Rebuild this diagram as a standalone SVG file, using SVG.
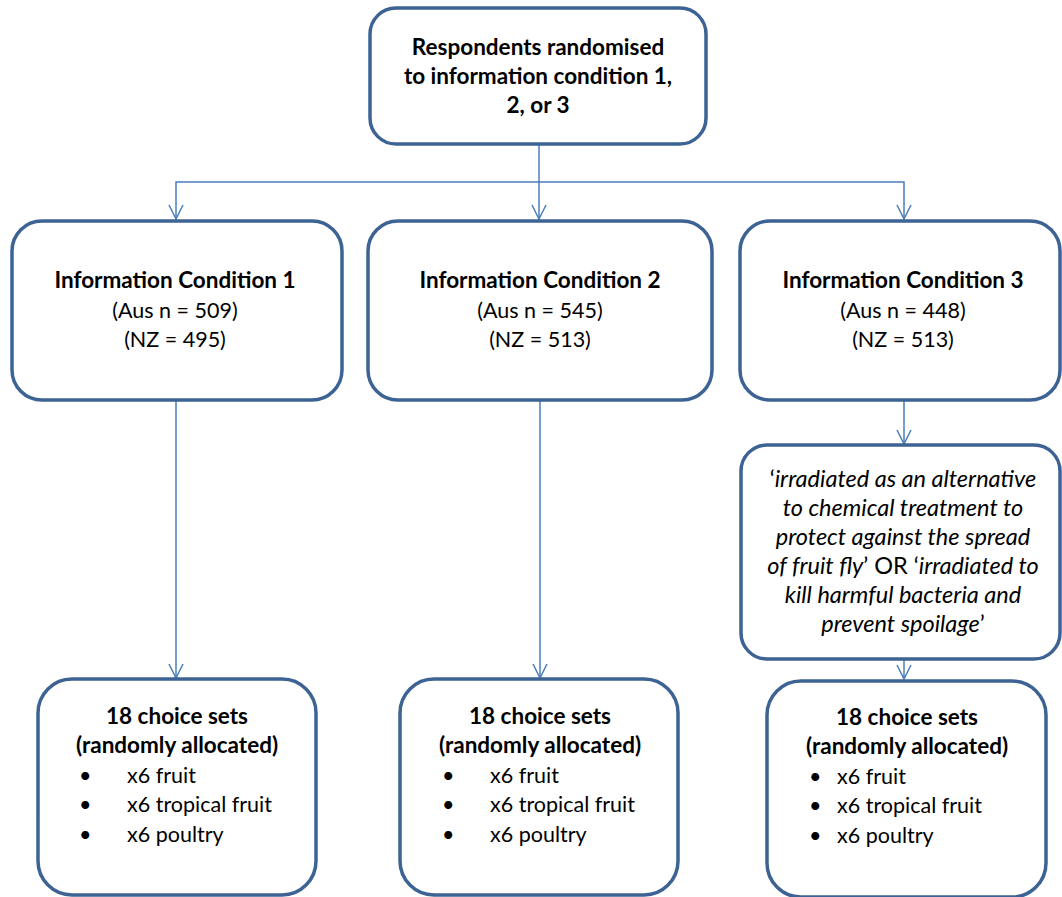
<svg xmlns="http://www.w3.org/2000/svg" width="1062" height="897" viewBox="0 0 1062 897">
<defs>
<marker id="arrd" viewBox="0 0 16 16" refX="8" refY="15" markerWidth="16" markerHeight="16" markerUnits="userSpaceOnUse">
<path d="M1,1 L8,15 L15,1" fill="none" stroke="#4a7ebb" stroke-width="1.5"/>
</marker>
</defs>
<style>
.box{fill:#fff;stroke:#3d6394;stroke-width:3.5}
.c{fill:none;stroke:#4a7ebb;stroke-width:1.5}
text{font-family:Lato,"Liberation Sans",sans-serif;font-size:21.5px;fill:#000}
.b{font-weight:bold;font-size:22.5px}
.m{text-anchor:middle}
.i{font-style:italic;font-size:23.5px}
.it{font-size:23.5px}
</style>
<rect width="1062" height="897" fill="#fff"/>
<g id="connectors">
<line class="c" x1="539" y1="144" x2="539" y2="219" marker-end="url(#arrd)"/>
<polyline class="c" points="176,219 176,182 904,182 904,219" marker-start="url(#arrd)" marker-end="url(#arrd)"/>
<line class="c" x1="176" y1="400" x2="176" y2="678" marker-end="url(#arrd)"/>
<line class="c" x1="540" y1="400" x2="540" y2="678" marker-end="url(#arrd)"/>
<line class="c" x1="904" y1="400" x2="904" y2="444" marker-end="url(#arrd)"/>
<line class="c" x1="904" y1="660" x2="904" y2="679" marker-end="url(#arrd)"/>
</g>
<g id="top">
<rect class="box" x="370" y="8" width="336" height="136" rx="26"/>
<text class="b m" x="538" y="55">Respondents randomised</text>
<text class="b m" x="538" y="84">to information condition 1,</text>
<text class="b m" x="538" y="113">2, or 3</text>
</g>
<g id="cond1">
<rect class="box" x="12" y="221" width="330" height="179" rx="30"/>
<text class="b m" x="175" y="288">Information Condition 1</text>
<text class="m" x="175" y="318">(Aus n = 509)</text>
<text class="m" x="175" y="347">(NZ = 495)</text>
</g>
<g id="cond2">
<rect class="box" x="368" y="221" width="344" height="179" rx="30"/>
<text class="b m" x="540" y="288">Information Condition 2</text>
<text class="m" x="540" y="318">(Aus n = 545)</text>
<text class="m" x="540" y="347">(NZ = 513)</text>
</g>
<g id="cond3">
<rect class="box" x="740" y="221" width="320" height="179" rx="30"/>
<text class="b m" x="903" y="288">Information Condition 3</text>
<text class="m" x="903" y="318">(Aus n = 448)</text>
<text class="m" x="903" y="347">(NZ = 513)</text>
</g>
<g id="irradiated">
<rect class="box" x="741" y="445" width="319" height="214" rx="26"/>
<text class="m it" x="903" y="487">‘<tspan class="i">irradiated as an alternative</tspan></text>
<text class="m i" x="903" y="516">to chemical treatment to</text>
<text class="m i" x="903" y="545">protect against the spread</text>
<text class="m it" x="903" y="574"><tspan class="i">of fruit fly</tspan>’ OR ‘<tspan class="i">irradiated to</tspan></text>
<text class="m i" x="903" y="603">kill harmful bacteria and</text>
<text class="m it" x="903" y="632"><tspan class="i">prevent spoilage</tspan>’</text>
</g>
<g id="choice1">
<rect class="box" x="38" y="679" width="278" height="216" rx="34"/>
<text class="b m" x="177" y="724">18 choice sets</text>
<text class="b m" x="177" y="753">(randomly allocated)</text>
<text x="79" y="783">•</text><text x="127" y="783">x6 fruit</text>
<text x="79" y="812">•</text><text x="127" y="812">x6 tropical fruit</text>
<text x="79" y="842">•</text><text x="127" y="842">x6 poultry</text>
</g>
<g id="choice2">
<rect class="box" x="400" y="679" width="278" height="216" rx="34"/>
<text class="b m" x="540" y="724">18 choice sets</text>
<text class="b m" x="540" y="753">(randomly allocated)</text>
<text x="442" y="783">•</text><text x="490" y="783">x6 fruit</text>
<text x="442" y="812">•</text><text x="490" y="812">x6 tropical fruit</text>
<text x="442" y="842">•</text><text x="490" y="842">x6 poultry</text>
</g>
<g id="choice3">
<rect class="box" x="767" y="681" width="279" height="216" rx="34"/>
<text class="b m" x="907" y="725">18 choice sets</text>
<text class="b m" x="907" y="754">(randomly allocated)</text>
<text x="809" y="784">•</text><text x="837" y="784">x6 fruit</text>
<text x="809" y="813">•</text><text x="837" y="813">x6 tropical fruit</text>
<text x="809" y="843">•</text><text x="837" y="843">x6 poultry</text>
</g>
</svg>
